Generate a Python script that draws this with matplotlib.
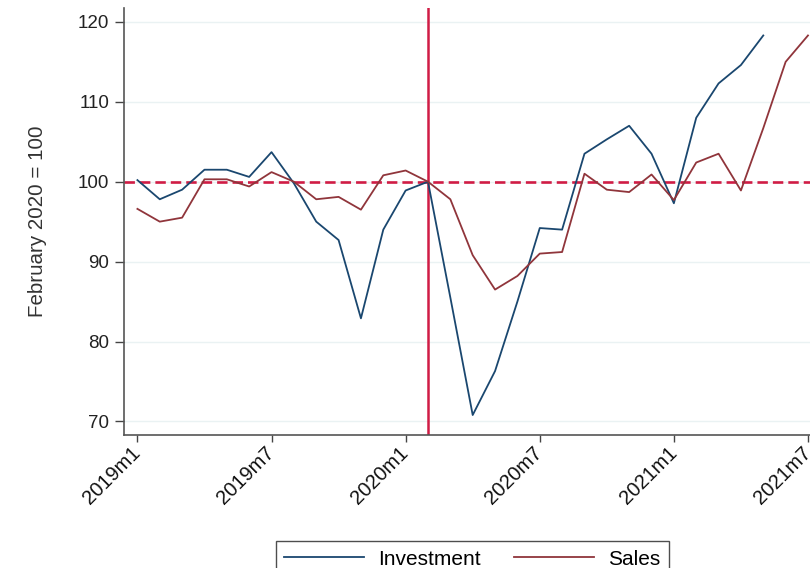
import matplotlib
matplotlib.use("Agg")
import matplotlib.pyplot as plt
import numpy as np

plt.rcParams['font.family'] = ['Liberation Sans', 'DejaVu Sans']

# months from 2019m1 (index 0) to 2021m7 (index 30)
investment = [100.2, 97.8, 99.0, 101.5, 101.5, 100.6, 103.7, 99.8, 95.0, 92.7,
              82.9, 94.0, 98.9, 100.0, 85.5, 70.8, 76.3, 85.0, 94.2, 94.0,
              103.5, 105.3, 107.0, 103.5, 97.3, 108.0, 112.3, 114.6, 118.3]
sales = [96.6, 95.0, 95.5, 100.3, 100.3, 99.4, 101.2, 100.0, 97.8, 98.1,
         96.5, 100.8, 101.4, 100.0, 97.8, 90.8, 86.5, 88.2, 91.0, 91.2,
         101.0, 99.0, 98.7, 100.9, 97.7, 102.4, 103.5, 98.9, 106.7, 115.0, 118.3]
tick_pos = [0, 6, 12, 18, 24, 30]
tick_labels = ["2019m1", "2019m7", "2020m1", "2020m7", "2021m1", "2021m7"]
y_ticks = [70, 80, 90, 100, 110, 120]
event_month = 13   # 2020m2
base_value = 100

fig = plt.figure(figsize=(8.1, 5.68), dpi=100)
ax = fig.add_axes([124/810, (568-435)/568, (810-124)/810, (435-7.5)/568])

ax.set_ylim(68.3, 121.8)
ax.set_xlim(-0.6, 30.09)

for yv in y_ticks:
    ax.axhline(yv, color='#eaf2f3', lw=1.0, zorder=0)

ax.axhline(base_value, color='#d01c45', lw=1.9, ls=(0, (3.95, 1.9)), zorder=2)
ax.axvline(event_month, color='#d01c45', lw=1.8, zorder=2)

l1, = ax.plot(np.arange(len(investment)), investment, color='#1a476f', lw=1.3, zorder=3, label='Investment')
l2, = ax.plot(np.arange(len(sales)), sales, color='#90353b', lw=1.3, zorder=3, label='Sales')

ax.set_yticks(y_ticks)
ax.set_yticklabels([str(v) for v in y_ticks], fontsize=13.5, color='#222222')
ax.set_xticks(tick_pos)
ax.set_xticklabels(tick_labels, rotation=45, ha='right', va='center', rotation_mode='anchor',
                   fontsize=14.5, color='#111111')
ax.tick_params(axis='y', direction='out', length=6.5, width=1, color='#444444', pad=4)
ax.tick_params(axis='x', direction='out', length=5, width=1, color='#444444', pad=6)

for s in ['top', 'right']:
    ax.spines[s].set_visible(False)
for s in ['left', 'bottom']:
    ax.spines[s].set_color('#555555')
    ax.spines[s].set_linewidth(1.2)

ax.set_ylabel('February 2020 = 100', fontsize=14.8, color='#333333', labelpad=22)

leg = fig.legend(handles=[l1, l2], loc='upper center', bbox_to_anchor=(472.5/810, 1-531/568),
                 ncol=2, fontsize=15, frameon=True, fancybox=False, edgecolor='#222222',
                 handlelength=3.84, columnspacing=1.6, borderpad=0.4, handletextpad=0.67)
leg.get_frame().set_linewidth(1.0)

fig.savefig('out.png', dpi=100)
